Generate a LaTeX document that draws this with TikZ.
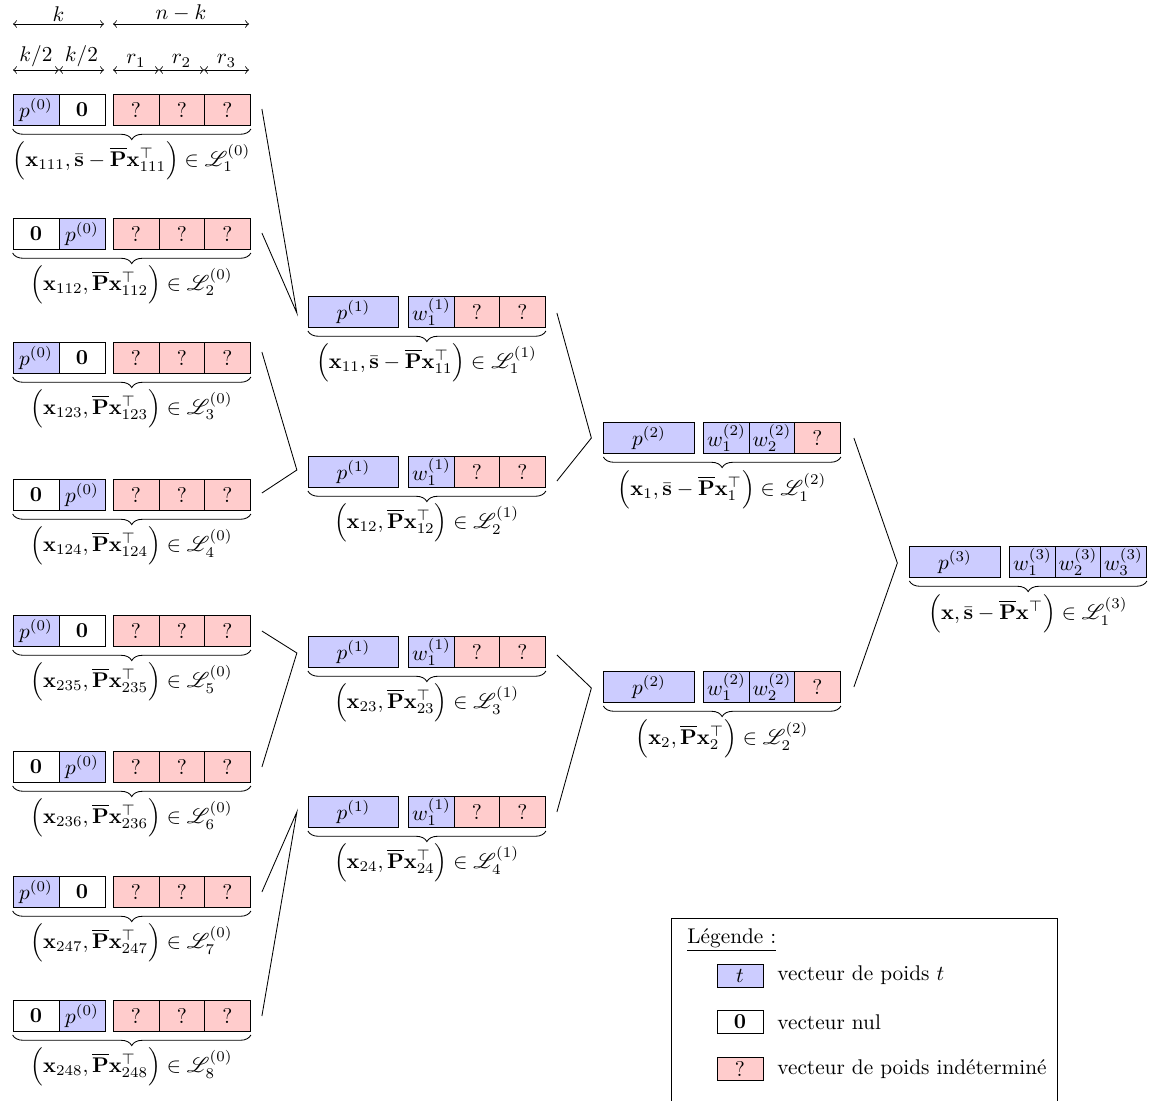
\documentclass[tikz,border=0pt]{standalone}
\usepackage{amsmath,amssymb,mathrsfs}
\usetikzlibrary{decorations.pathreplacing,calc}
\newcommand\lblS[3]{$\Big(\mathbf{x}_{#1},\bar{\mathbf{s}}-\overline{\mathbf{P}}\mathbf{x}_{#1}^{\top}\Big)\in\mathscr{L}_{#2}^{(#3)}$}
\newcommand\lblP[3]{$\Big(\mathbf{x}_{#1},\overline{\mathbf{P}}\mathbf{x}_{#1}^{\top}\Big)\in\mathscr{L}_{#2}^{(#3)}$}
\tikzset{
  cell/.style={draw, minimum width=21.6pt, minimum height=14.6pt, inner sep=0pt},
  wcell/.style={cell, minimum width=42.5pt},
  tcell/.style={fill=blue!20},
  qcell/.style={fill=red!20},
  zcell/.style={fill=white},
  legcell/.style={cell, minimum height=10.8pt},
  brc/.style={decorate, decoration={brace, mirror, amplitude=5pt}},
  dimarrow/.style={<->},
  link/.style={draw},
  lbl/.style={inner sep=0pt},
  dimlbl/.style={above, inner sep=1.2pt},
}
\newcommand\lvlzero[4]{%
  \ifx a#3
    \node[cell,tcell] (#1a) at (36,#2) {$p^{(0)}$};
    \node[cell,zcell] (#1b) at (82,#2) {$\mathbf{0}$};
  \else
    \node[cell,zcell] (#1a) at (36,#2) {$\mathbf{0}$};
    \node[cell,tcell] (#1b) at (82,#2) {$p^{(0)}$};
  \fi
  \node[cell,qcell] (#1c) at (136,#2) {?};
  \node[cell,qcell] (#1d) at (182,#2) {?};
  \node[cell,qcell] (#1e) at (227.5,#2) {?};
  \draw[brc] ($(#1a.south west)+(0,3)$) -- ($(#1e.south east)+(0,3)$);
  \node[lbl] (#1l) at (131.5,#2+51) {#4};
}
\newcommand\lvlone[3]{%
  \node[wcell,tcell] (#1a) at (353.5,#2) {$p^{(1)}$};
  \node[cell,tcell] (#1b) at (431.5,#2) {$w_1^{(1)}$};
  \node[cell,qcell] (#1c) at (477,#2) {?};
  \node[cell,qcell] (#1d) at (522.5,#2) {?};
  \draw[brc] ($(#1a.south west)+(0,3)$) -- ($(#1d.south east)+(0,3)$);
  \node[lbl] (#1l) at (426.5,#2+51) {#3};
}
\newcommand\lvltwo[3]{%
  \node[wcell,tcell] (#1a) at (649,#2) {$p^{(2)}$};
  \node[cell,tcell] (#1b) at (726.5,#2) {$w_1^{(2)}$};
  \node[cell,tcell] (#1c) at (772,#2) {$w_2^{(2)}$};
  \node[cell,qcell] (#1d) at (817.5,#2) {?};
  \draw[brc] ($(#1a.south west)+(0,3)$) -- ($(#1d.south east)+(0,3)$);
  \node[lbl] (#1l) at (722,#2+52) {#3};
}
\begin{document}
\begin{tikzpicture}[x=0.47pt,y=-0.47pt]
\useasboundingbox (0,0) rectangle (1156,1100);

% dimension arrows
\coordinate (d0) at (13,24);
\coordinate (d1) at (104,24);
\coordinate (d2) at (113,24);
\coordinate (d3) at (249,24);
\draw[dimarrow] (d0) -- node[dimlbl] {$k$} (d1);
\draw[dimarrow] (d2) -- node[dimlbl] {$n-k$} (d3);
\coordinate (e0) at (13,70);
\coordinate (e1) at (59,70);
\coordinate (e2) at (104,70);
\coordinate (e3) at (113,70);
\coordinate (e4) at (159,70);
\coordinate (e5) at (204,70);
\coordinate (e6) at (249,70);
\draw[dimarrow] (e0) -- node[dimlbl] {$k/2$} (e1);
\draw[dimarrow] (e1) -- node[dimlbl] {$k/2$} (e2);
\draw[dimarrow] (e3) -- node[dimlbl] {$r_1$} (e4);
\draw[dimarrow] (e4) -- node[dimlbl] {$r_2$} (e5);
\draw[dimarrow] (e5) -- node[dimlbl] {$r_3$} (e6);

% level 0
\lvlzero{A1}{110}{a}{\lblS{111}{1}{0}}
\lvlzero{A2}{234}{b}{\lblP{112}{2}{0}}
\lvlzero{A3}{358}{a}{\lblP{123}{3}{0}}
\lvlzero{A4}{495}{b}{\lblP{124}{4}{0}}
\lvlzero{A5}{631}{a}{\lblP{235}{5}{0}}
\lvlzero{A6}{767}{b}{\lblP{236}{6}{0}}
\lvlzero{A7}{892}{a}{\lblP{247}{7}{0}}
\lvlzero{A8}{1016}{b}{\lblP{248}{8}{0}}

% level 1
\lvlone{B1}{312}{\lblS{11}{1}{1}}
\lvlone{B2}{472}{\lblP{12}{2}{1}}
\lvlone{B3}{652}{\lblP{23}{3}{1}}
\lvlone{B4}{812}{\lblP{24}{4}{1}}

% level 2
\lvltwo{C1}{438}{\lblS{1}{1}{2}}
\lvltwo{C2}{687}{\lblP{2}{2}{2}}

% level 3
\node[wcell,tcell] (D1a) at (955,562) {$p^{(3)}$};
\node[cell,tcell] (D1b) at (1032.5,562) {$w_1^{(3)}$};
\node[cell,tcell] (D1c) at (1078,562) {$w_2^{(3)}$};
\node[cell,tcell] (D1d) at (1123.5,562) {$w_3^{(3)}$};
\draw[brc] ($(D1a.south west)+(0,3)$) -- ($(D1d.south east)+(0,3)$);
\node[lbl] (D1l) at (1028,614) {$\Big(\mathbf{x},\bar{\mathbf{s}}-\overline{\mathbf{P}}\mathbf{x}^{\top}\Big)\in\mathscr{L}_{1}^{(3)}$};

% connectors
\coordinate (jB1) at ($(B1a.west)+(-11,1)$);
\coordinate (jB2) at ($(B2a.west)+(-11,-2)$);
\coordinate (jB3) at ($(B3a.west)+(-11,1)$);
\coordinate (jB4) at ($(B4a.west)+(-11,0)$);
\coordinate (jC1) at ($(C1a.west)+(-12,0)$);
\coordinate (jC2) at ($(C2a.west)+(-12,1)$);
\coordinate (jD1) at ($(D1a.west)+(-12,1)$);
\draw[link] ($(A1e.east)+(11,-1)$) -- (jB1) -- ($(A2e.east)+(11,-1)$);
\draw[link] ($(A3e.east)+(11,-6)$) -- (jB2) -- ($(A4e.east)+(11,-2)$);
\draw[link] ($(A5e.east)+(11,0)$) -- (jB3) -- ($(A6e.east)+(11,0)$);
\draw[link] ($(A7e.east)+(11,0)$) -- (jB4) -- ($(A8e.east)+(11,0)$);
\draw[link] ($(B1d.east)+(11,1)$) -- (jC1) -- ($(B2d.east)+(11,9)$);
\draw[link] ($(B3d.east)+(11,3)$) -- (jC2) -- ($(B4d.east)+(11,0)$);
\draw[link] ($(C1d.east)+(13,0)$) -- (jD1) -- ($(C2d.east)+(13,0)$);

% legend
\draw (671,1104) -- (671,918) -- (1057,918) -- (1057,1104);
\node[anchor=west, inner sep=0pt] (lgt) at (687,940) {\underline{Légende :}};
\node[legcell,tcell] (lg1) at (740,975.5) {$t$};
\node[legcell,zcell] (lg2) at (740,1022) {$\mathbf{0}$};
\node[legcell,qcell] (lg3) at (740,1069) {?};
\node[anchor=west, inner sep=0pt] (lt1) at (777,975.5) {vecteur de poids $t$};
\node[anchor=west, inner sep=0pt] (lt2) at (777,1022) {vecteur nul};
\node[anchor=west, inner sep=0pt] (lt3) at (777,1069) {vecteur de poids indéterminé};
\end{tikzpicture}
\end{document}
